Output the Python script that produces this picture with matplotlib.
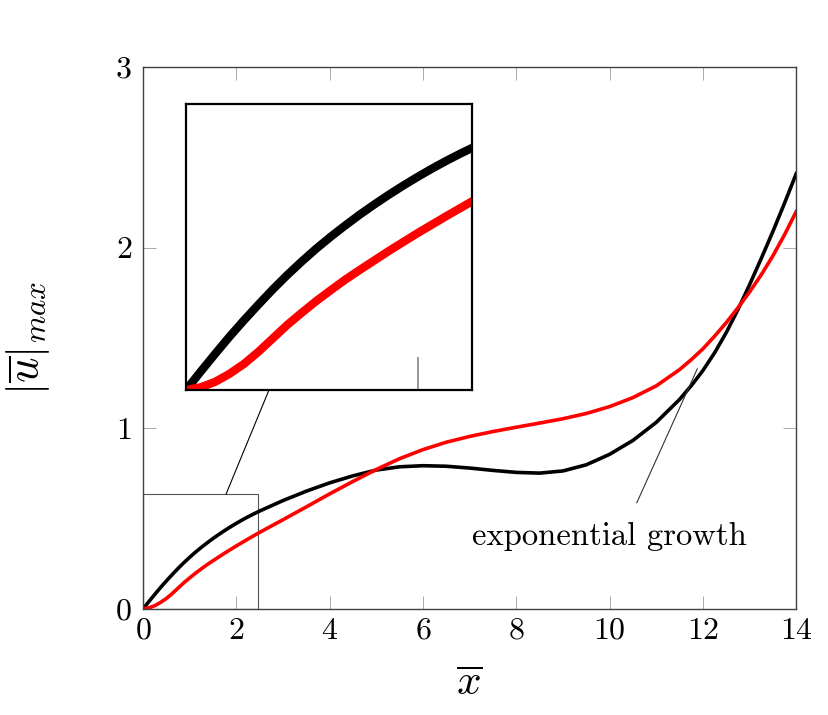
#!/usr/bin/env python3
"""
Max velocity vs x with zoomed inset near the origin.
"""
import matplotlib
matplotlib.use("Agg")
import matplotlib.pyplot as plt
from matplotlib.patches import Rectangle, ConnectionPatch

plt.rcParams['mathtext.fontset'] = 'cm'
plt.rcParams['font.family'] = 'serif'
plt.rcParams['font.serif'] = ['cmr10']
plt.rcParams['axes.formatter.use_mathtext'] = True
plt.rcParams['axes.unicode_minus'] = False

# values (finer near the origin, which the inset magnifies)
x_vals = [0, 0.125, 0.25, 0.375, 0.5, 0.625, 0.75, 0.875, 1.0, 1.125, 1.25, 1.375,
          1.5, 1.625, 1.75, 1.875, 2.0, 2.125, 2.25, 2.375, 2.5,
          3, 3.5, 4, 4.5, 5, 5.5, 6, 6.5, 7, 7.5, 8, 8.5, 9, 9.5, 10, 10.5, 11,
          11.5, 11.75, 12, 12.25, 12.5, 12.75, 13, 13.25, 13.5, 13.75, 14]
y_black = [0, 0.0405, 0.080, 0.1185, 0.155, 0.190, 0.224, 0.256, 0.286, 0.3145,
           0.341, 0.366, 0.390, 0.4125, 0.434, 0.4545, 0.474, 0.4925, 0.510, 0.5265,
           0.542,
           0.600, 0.652, 0.698, 0.737, 0.769, 0.787, 0.793, 0.790, 0.780, 0.767,
           0.756, 0.752, 0.764, 0.798, 0.856, 0.933, 1.033,
           1.160, 1.236, 1.320, 1.418, 1.530, 1.657, 1.795, 1.940, 2.090, 2.247, 2.410]
y_red = [0, 0.006, 0.018, 0.036, 0.058, 0.085, 0.115, 0.145, 0.172, 0.198,
         0.222, 0.2455, 0.267, 0.288, 0.309, 0.329, 0.349, 0.368, 0.387, 0.4055,
         0.424,
         0.494, 0.565, 0.637, 0.706, 0.772, 0.832, 0.882, 0.923, 0.955, 0.982,
         1.006, 1.029, 1.053, 1.082, 1.120, 1.170, 1.235,
         1.325, 1.380, 1.440, 1.510, 1.585, 1.667, 1.755, 1.850, 1.955, 2.072, 2.200]

xticks = [0, 2, 4, 6, 8, 10, 12, 14]
yticks = [0, 1, 2, 3]
zoom_x = (0, 2.47)
zoom_y = (0, 0.636)

fig = plt.figure(figsize=(8.29, 7.15), dpi=100)
ax = fig.add_axes([0.1725, 0.1483, 0.788, 0.758])

ax.plot(x_vals, y_black, color='black', lw=2.6, solid_joinstyle='round')
ax.plot(x_vals, y_red, color='#ff0000', lw=2.6, solid_joinstyle='round')
ax.set_xlim(0, 14)
ax.set_ylim(0, 3)
ax.set_xticks(xticks)
ax.set_yticks(yticks)
ax.set_xticklabels([f'${t}$' for t in xticks])
ax.set_yticklabels([f'${t}$' for t in yticks])
ax.tick_params(direction='in', length=9.5, width=0.7, color='#aaaaaa',
               top=True, right=True, labelsize=23, labelcolor='black')
ax.tick_params(axis='x', pad=6)
ax.tick_params(axis='y', pad=8)
for s in ax.spines.values():
    s.set_color('#404040')
    s.set_linewidth(1.0)

ax.set_xlabel(r'$\overline{x}$', fontsize=31)
ax.xaxis.set_label_coords(0.5, -0.105)
ax.set_ylabel(r'$|\overline{u}|_{max}$', fontsize=32)
ax.yaxis.set_label_coords(-0.140, 0.5)

ax.annotate('exponential growth', xy=(11.88, 1.33), xytext=(10.0, 0.40),
            ha='center', va='center', fontsize=23.5,
            arrowprops=dict(arrowstyle='-', lw=0.8, color='#333333',
                            relpos=(0.567, 1.0), shrinkA=13, shrinkB=0))

# zoom box
ax.add_patch(Rectangle((zoom_x[0], zoom_y[0]), zoom_x[1] - zoom_x[0],
                       zoom_y[1] - zoom_y[0], fill=False, ec='#555555', lw=0.8,
                       zorder=1))

ins = fig.add_axes([0.2244, 0.4545, 0.345, 0.4])
ins.plot(x_vals, y_black, color='black', lw=6, solid_joinstyle='round')
ins.plot(x_vals, y_red, color='#ff0000', lw=6, solid_joinstyle='round')
ins.set_xlim(*zoom_x)
ins.set_ylim(*zoom_y)
ins.set_xticks([2])
ins.set_yticks([])
ins.tick_params(direction='in', length=24, width=1.2, color='#888888',
                labelbottom=False, labelleft=False)
for s in ins.spines.values():
    s.set_color('black')
    s.set_linewidth(1.6)

con = ConnectionPatch(xyA=(1.78, zoom_y[1]), coordsA=ax.transData,
                      xyB=(0.29, 0.0), coordsB=ins.transAxes,
                      color='black', lw=0.8)
fig.add_artist(con)

fig.savefig('out.png', dpi=100)
